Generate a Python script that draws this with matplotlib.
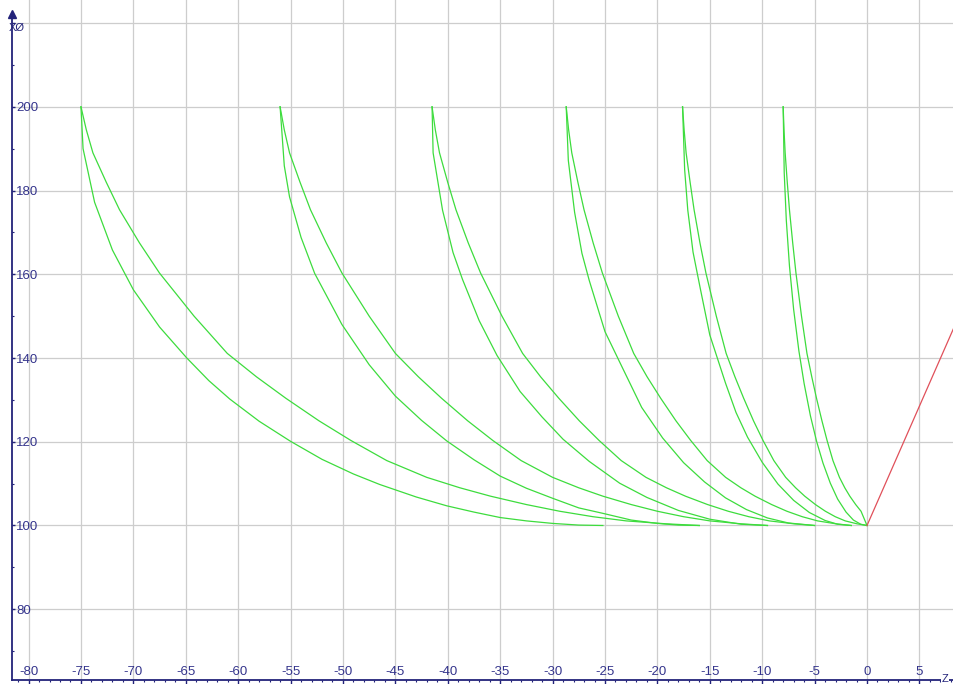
import matplotlib
matplotlib.use("Agg")
import matplotlib.pyplot as plt
from matplotlib.ticker import MultipleLocator

plt.rcParams['font.family'] = ['Liberation Sans', 'DejaVu Sans']
plt.rcParams['axes.unicode_minus'] = False

# toolpath passes (Z along x, diameter along y)
p1_lo_z = [-75, -74.8, -73.7, -72.0, -70.0, -67.5, -64.9, -62.8, -60.8, -58.0, -55.0, -52.0,
           -49.0, -46.5, -43.0, -40.1, -37.5, -35.0, -32.5, -30.0, -27.5, -25.2]
p1_lo_d = [200, 190.0, 177.2, 165.8, 156.3, 147.4, 140.0, 134.6, 130.2, 124.9, 120.1, 115.8,
           112.3, 109.8, 106.8, 104.7, 103.2, 101.9, 101.1, 100.5, 100.1, 100]
p1_hi_z = [-75, -74.49, -73.86, -72.59, -71.32, -69.42, -67.51, -64.21, -61.04, -58.25, -55.46,
           -52.29, -49.24, -45.82, -42.01, -38.84, -35.92, -32.50, -29.32, -26.15, -22.98, -19.17, -16.0]
p1_hi_d = [200, 194.5, 189.0, 182.0, 175.4, 167.5, 160.3, 150.0, 141.1, 135.5, 130.4,
           125.0, 120.3, 115.5, 111.5, 109.0, 107.0, 105.0, 103.4, 102.1, 101.1, 100.4, 100]

p2_lo_z = [-56, -55.6, -55.1, -54.0, -52.7, -50.1, -47.5, -45.0, -42.5, -40.1, -37.5, -35.0,
           -32.5, -30.0, -27.5, -25.2, -22.5, -20.0, -18.0, -16.0]
p2_lo_d = [200, 185.9, 178.5, 168.8, 160.2, 148.0, 138.4, 130.9, 125.1, 120.2, 115.7, 111.8,
           108.9, 106.5, 104.2, 102.9, 101.3, 100.5, 100.1, 100]
p2_hi_z = [-56, -55.6, -55.1, -54.1, -53.1, -51.6, -50.1, -47.5, -45.0, -42.8, -40.6, -38.1,
           -35.7, -33.0, -30.0, -27.5, -25.2, -22.5, -20.0, -17.5, -15.0, -12.0, -9.5]
p2_hi_d = [200, 194.5, 189.0, 182.0, 175.4, 167.5, 160.3, 150.0, 141.1, 135.5, 130.4, 125.0,
           120.3, 115.5, 111.5, 109.0, 107.0, 105.0, 103.4, 102.1, 101.1, 100.4, 100]

p3_lo_z = [-41.5, -41.4, -40.5, -39.5, -38.6, -37.0, -35.3, -33.1, -31.0, -29.0, -26.5, -23.6,
           -21.0, -18.0, -15.0, -12.0, -9.5]
p3_lo_d = [200, 189.0, 175.3, 165.2, 158.8, 148.9, 140.6, 132.0, 125.9, 120.6, 115.3, 110.1,
           106.7, 103.6, 101.5, 100.3, 100]
p3_hi_z = [-41.5, -41.19, -40.79, -40.01, -39.22, -38.05, -36.87, -34.83, -32.86, -31.14, -29.41,
           -27.45, -25.56, -23.45, -21.09, -19.13, -17.32, -15.21, -13.24, -11.28, -9.32, -6.96, -5.0]
p3_hi_d = [200, 194.5, 189.0, 182.0, 175.4, 167.5, 160.3, 150.0, 141.1, 135.5, 130.4,
           125.0, 120.3, 115.5, 111.5, 109.0, 107.0, 105.0, 103.4, 102.1, 101.1, 100.4, 100]

p4_lo_z = [-28.7, -28.5, -27.9, -27.2, -26.5, -25.0, -23.4, -21.5, -19.5, -17.5, -15.5, -13.5,
           -11.5, -9.5, -7.5, -5.0]
p4_lo_d = [200, 187.2, 174.8, 165.0, 158.5, 146.3, 138.0, 128.2, 120.9, 115.0, 110.4, 106.6,
           103.8, 101.8, 100.6, 100]
p4_hi_z = [-28.7, -28.47, -28.17, -27.59, -27.00, -26.13, -25.25, -23.73, -22.26, -20.98, -19.69,
           -18.23, -16.82, -15.25, -13.49, -12.03, -10.68, -9.10, -7.64, -6.18, -4.72, -2.96, -1.5]
p4_hi_d = [200, 194.5, 189.0, 182.0, 175.4, 167.5, 160.3, 150.0, 141.1, 135.5, 130.4,
           125.0, 120.3, 115.5, 111.5, 109.0, 107.0, 105.0, 103.4, 102.1, 101.1, 100.4, 100]

p5_lo_z = [-17.6, -17.4, -17.1, -16.6, -15.9, -15.0, -13.5, -12.5, -11.4, -10.0, -8.5, -7.0,
           -5.5, -4.0, -2.8, -1.5]
p5_lo_d = [200, 185.0, 175.3, 165.3, 156.5, 145.5, 134.0, 127.0, 121.1, 115.1, 109.9, 106.0,
           103.1, 101.2, 100.3, 100]
p5_hi_z = [-17.6, -17.45, -17.26, -16.88, -16.50, -15.94, -15.37, -14.38, -13.44, -12.60, -11.77,
           -10.83, -9.92, -8.89, -7.76, -6.81, -5.94, -4.92, -3.97, -3.03, -2.08, -0.95, 0.0]
p5_hi_d = [200, 194.5, 189.0, 182.0, 175.4, 167.5, 160.3, 150.0, 141.1, 135.5, 130.4,
           125.0, 120.3, 115.5, 111.5, 109.0, 107.0, 105.0, 103.4, 102.1, 101.1, 100.4, 100]

p6_lo_z = [-8.0, -7.9, -7.7, -7.4, -7.0, -6.5, -6.0, -5.4, -4.8, -4.2, -3.5, -2.8, -2.0,
           -1.3, -0.6, 0.0]
p6_lo_d = [200, 184.3, 172.9, 162.0, 151.6, 141.7, 133.9, 126.2, 120.0, 114.9, 110.1, 106.3,
           103.2, 101.3, 100.3, 100]
p6_hi_z = [-8.0, -7.92, -7.81, -7.61, -7.40, -7.09, -6.78, -6.25, -5.73, -5.27, -4.82, -4.30,
           -3.81, -3.25, -2.63, -2.12, -1.64, -1.08, -0.57, 0.0]
p6_hi_d = [200, 194.5, 189.0, 182.0, 175.4, 167.5, 160.3, 150.0, 141.1, 135.5, 130.4, 125.0,
           120.3, 115.5, 111.5, 109.0, 107.0, 105.0, 103.4, 100]

# rapid move (red)
rapid_z = [0, 10]
rapid_d = [100, 157]

x_ticks = list(range(-80, 6, 5))
y_ticks = list(range(80, 221, 20))
y_labels = [str(v) for v in y_ticks[:-1]] + ['']

GREEN = '#3ddc3d'
RED = '#e0505a'
NAVY = '#23237a'
LABEL = '#34348c'

fig = plt.figure(figsize=(9.54, 6.84), dpi=100)
ax = fig.add_axes([12 / 954, 4 / 684, 942 / 954, 680 / 684])
ax.set_xlim(-81.58, 8.30)
ax.set_ylim(63.1, 225.5)

passes = [(p1_lo_z, p1_lo_d), (p1_hi_z, p1_hi_d),
          (p2_lo_z, p2_lo_d), (p2_hi_z, p2_hi_d),
          (p3_lo_z, p3_lo_d), (p3_hi_z, p3_hi_d),
          (p4_lo_z, p4_lo_d), (p4_hi_z, p4_hi_d),
          (p5_lo_z, p5_lo_d), (p5_hi_z, p5_hi_d),
          (p6_lo_z, p6_lo_d), (p6_hi_z, p6_hi_d)]
for z, d in passes:
    ax.plot(z, d, color=GREEN, lw=0.9)
ax.plot(rapid_z, rapid_d, color=RED, lw=0.9)

# grid + axes
ax.set_axisbelow(True)
ax.grid(True, which='major', color='#cdcdcd', lw=0.9)
for s in ['top', 'right']:
    ax.spines[s].set_visible(False)
for s in ['left', 'bottom']:
    ax.spines[s].set_color(NAVY)
    ax.spines[s].set_linewidth(1.3)
ax.spines['left'].set_bounds(63.1, 221.7)

ax.set_xticks(x_ticks)
ax.set_yticks(y_ticks, y_labels)
ax.xaxis.set_minor_locator(MultipleLocator(1))
ax.yaxis.set_minor_locator(MultipleLocator(10))

ax.tick_params(axis='x', which='major', direction='out', length=3, width=1,
               color=NAVY, labelcolor=LABEL, labelsize=9.5, pad=-6.6)
ax.tick_params(axis='x', which='minor', direction='out', length=1.6, width=0.8, color=NAVY)
ax.tick_params(axis='y', which='major', direction='in', length=2.5, width=1,
               color=NAVY, labelcolor=LABEL, labelsize=9.5, pad=-3)
ax.tick_params(axis='y', which='minor', direction='in', length=1.6, width=0.8, color=NAVY)
plt.setp(ax.get_xticklabels(), va='baseline')
plt.setp(ax.get_yticklabels(), ha='left')

# axis arrow and names
ax.plot([0], [1 - 14 / 680], marker='^', ms=6, color=NAVY,
        transform=ax.transAxes, clip_on=False)
fig.text(9 / 954, 1 - 28 / 684, 'XØ', fontsize=8, color=NAVY, va='center')
fig.text(945 / 954, 1 - 679 / 684, 'Z', fontsize=8, color=NAVY, ha='center', va='center',
         bbox=dict(fc='white', ec='none', pad=0.5))

plt.savefig('out.png', dpi=100)
